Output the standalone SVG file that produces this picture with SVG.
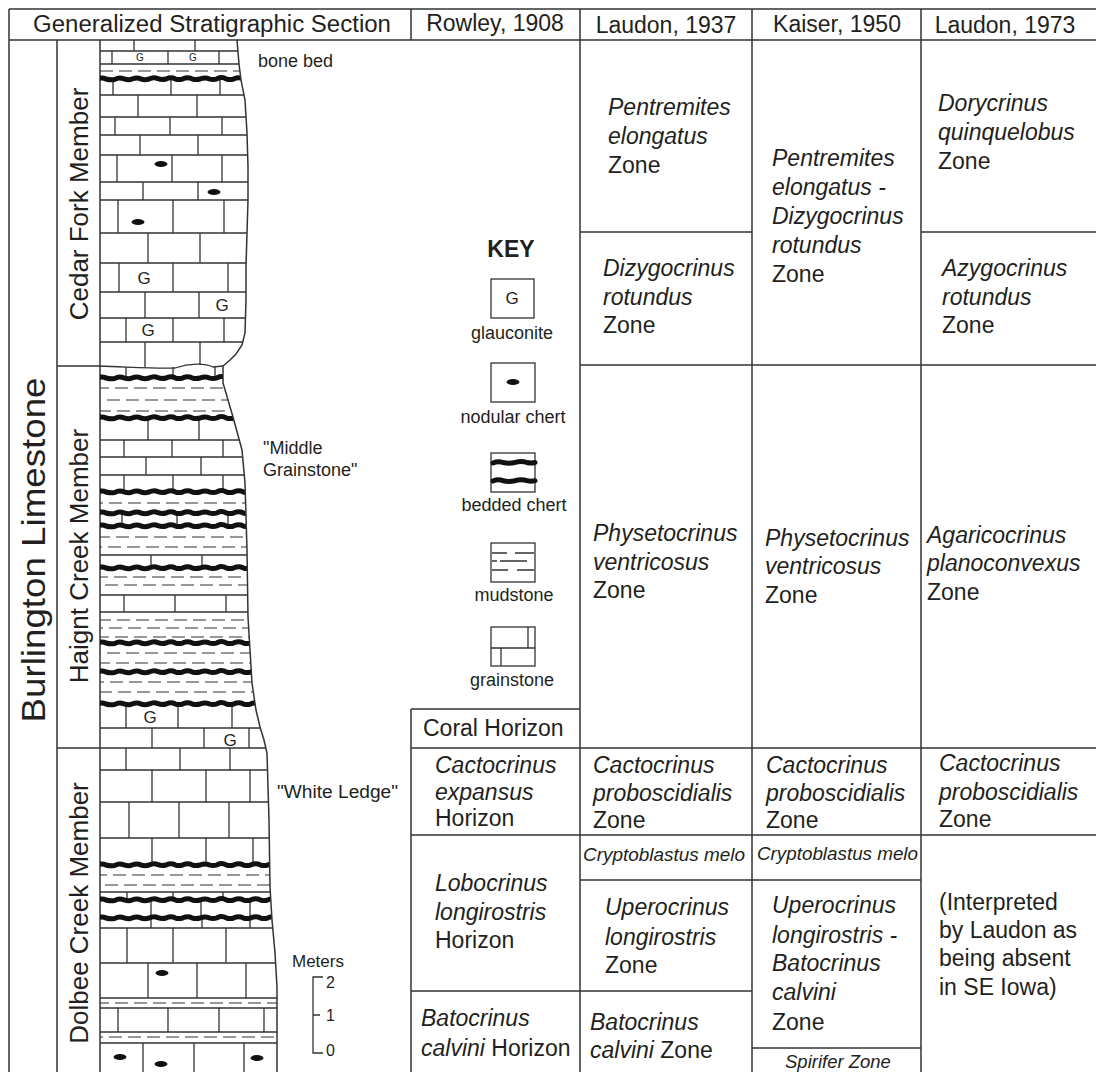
<svg xmlns="http://www.w3.org/2000/svg" width="1096" height="1072" viewBox="0 0 1096 1072">
<style>
.t{font-family:"Liberation Sans",Arial,Helvetica,sans-serif;fill:#231f20}
.h{font-size:23px}
.z{font-size:23px}
.i{font-style:italic}
.s{font-size:18px}
.b{font-weight:bold}
.ln{stroke:#333;stroke-width:1.5;fill:none}
.br{stroke:#333;stroke-width:1.3;fill:none}
.ds{stroke:#333;stroke-width:1.2;fill:none;stroke-dasharray:13 6}
.ch{stroke:#111;stroke-width:5;fill:none;stroke-linecap:round;stroke-linejoin:round}
.nd{fill:#111}
</style>
<defs>
<clipPath id="litho"><path d="M100,40 L237,40 L239,64 L241,80 L245,100 L247,133 L248,167 L248,200 L247,233 L246,267 L246,300 L245,333 L242,345 L236,354 L230,360 L223,366 L223,383 L233,417 L242,450 L245,483 L247,550 L248,617 L252,683 L256,710 L260,727 L264,740 L267,753 L268,787 L269,820 L270,887 L272,920 L275,953 L277,987 L277,1072 L100,1072 Z"/></clipPath>
<path id="chert" d="M98,0 q4,-2.2 8,0 q5,1.4 9,0.3 q4,-2.4 9,-0.5 q5,1.6 8,0.2 q5,-2 9,0 q4,1.3 8,0 q5,-2.4 9,-0.3 q4,1.5 8,0.3 q5,-2.2 9,-0.2 q4,1.4 8,0 q5,-2.3 9,0 q4,1.5 8,0.2 q5,-2 9,-0.2 q4,1.3 8,0 q5,-2.4 9,0 q4,1.5 8,0 q5,-2.2 9,0 q4,1.4 8,0 q5,-2.2 9,0 q4,1.4 8,0 q5,-2 9,0 q4,1.4 8,0"/>
</defs>
<rect width="1096" height="1072" fill="#fff"/>

<g id="connectors">
<path class="ln" d="M9,9 H1096 M9,9 V1072 M9,40 H1096 M411,9 V40 M580,9 V1072 M752,9 V1072 M921,9 V1072 M57,40 V1072 M100,40 V1072 M57,366 H100 M57,748 H100 M580,232 H752 M921,232 H1096 M580,365 H1096 M411,709 H580 M411,709 V1072 M411,748 H1096 M411,835 H1096 M580,880 H921 M411,991 H752 M752,1048 H921"/>
</g>

<g id="headers">
<text class="t h" x="212" y="32" text-anchor="middle" textLength="358" lengthAdjust="spacingAndGlyphs">Generalized Stratigraphic Section</text>
<text class="t h" x="495" y="31" text-anchor="middle">Rowley, 1908</text>
<text class="t h" x="666" y="33" text-anchor="middle">Laudon, 1937</text>
<text class="t h" x="837" y="32" text-anchor="middle">Kaiser, 1950</text>
<text class="t h" x="1005" y="33" text-anchor="middle">Laudon, 1973</text>
</g>

<g id="formation">
<text class="t" font-size="33" transform="translate(45,550) rotate(-90)" text-anchor="middle" textLength="345" lengthAdjust="spacingAndGlyphs">Burlington Limestone</text>
</g>
<g id="member-cedar-fork">
<text class="t" font-size="26" transform="translate(88,204) rotate(-90)" text-anchor="middle">Cedar Fork Member</text>
</g>
<g id="member-haignt-creek">
<text class="t" font-size="26" transform="translate(88,556) rotate(-90)" text-anchor="middle">Haignt Creek Member</text>
</g>
<g id="member-dolbee-creek">
<text class="t" font-size="26" transform="translate(88,913) rotate(-90)" text-anchor="middle">Dolbee Creek Member</text>
</g>

<g id="lithology">
<g clip-path="url(#litho)">
<path class="br" d="M100,51 H290 M100,64 H290 M100,95 H290 M100,117 H290 M100,135 H290 M100,155 H290 M100,182 H290 M100,200 H290 M100,233 H290 M100,263 H290 M100,292 H290 M100,318 H290 M100,342 H290 M100,440 H290 M100,457 H290 M100,475 H290 M100,555 H290 M100,595 H290 M100,612 H290 M100,728 H290 M100,748 H290 M100,770 H290 M100,802 H290 M100,838 H290 M100,892 H290 M100,928 H290 M100,963 H290 M100,998 H290 M100,1008 H290 M100,1032 H290 M100,1043 H290"/>
<path class="br" d="M134,40 V51 M195,40 V51 M112,51 V64 M168,51 V64 M219,51 V64 M113,79 V95 M171,79 V95 M220,79 V95 M138,95 V117 M197,95 V117 M115,117 V135 M170,117 V135 M222,117 V135 M140,135 V155 M198,135 V155 M117,155 V182 M172,155 V182 M222,155 V182 M143,182 V200 M198,182 V200 M118,200 V233 M173,200 V233 M224,200 V233 M148,233 V263 M200,233 V263 M119,263 V292 M173,263 V292 M228,263 V292 M145,292 V318 M199,292 V318 M126,318 V342 M173,318 V342 M224,318 V342 M145,342 V367 M200,342 V365 M126,367 V378 M173,367 V378 M215,366 V378 M148,418 V440 M199,418 V440 M124,440 V457 M172,440 V457 M223,440 V457 M146,457 V475 M201,457 V475 M124,475 V492 M173,475 V492 M223,475 V492 M122,513 V526 M177,513 V526 M228,513 V526 M151,555 V568 M202,555 V568 M124,595 V612 M175,595 V612 M226,595 V612 M126,704 V728 M178,704 V728 M232,704 V728 M152,728 V748 M204,728 V748 M249,728 V748 M126,748 V770 M180,748 V770 M230,748 V770 M152,770 V802 M206,770 V802 M250,770 V802 M129,802 V838 M179,802 V838 M229,802 V838 M152,838 V865 M206,838 V865 M253,838 V865 M127,892 V900 M173,892 V900 M223,892 V900 M151,900 V918 M201,900 V918 M250,900 V918 M151,918 V928 M202,918 V928 M250,918 V928 M127,928 V963 M173,928 V963 M226,928 V963 M148,963 V998 M197,963 V998 M246,963 V998 M118,1008 V1032 M168,1008 V1032 M219,1008 V1032 M264,1008 V1032 M143,1043 V1072 M194,1043 V1072 M244,1043 V1072"/>
<path class="ds" d="M100,71 H290"/>
<path class="ds" stroke-dashoffset="4" d="M100,388 H290"/>
<path class="ds" stroke-dashoffset="12" d="M100,400 H290"/>
<path class="ds" stroke-dashoffset="2" d="M100,411 H290"/>
<path class="ds" stroke-dashoffset="10" d="M100,503 H290"/>
<path class="ds" stroke-dashoffset="3" d="M100,537 H290"/>
<path class="ds" stroke-dashoffset="11" d="M100,547 H290"/>
<path class="ds" stroke-dashoffset="5" d="M100,577 H290"/>
<path class="ds" stroke-dashoffset="14" d="M100,585 H290"/>
<path class="ds" stroke-dashoffset="2" d="M100,620 H290"/>
<path class="ds" stroke-dashoffset="10" d="M100,628 H290"/>
<path class="ds" stroke-dashoffset="4" d="M100,637 H290"/>
<path class="ds" stroke-dashoffset="12" d="M100,653 H290"/>
<path class="ds" stroke-dashoffset="3" d="M100,663 H290"/>
<path class="ds" stroke-dashoffset="9" d="M100,682 H290"/>
<path class="ds" stroke-dashoffset="1" d="M100,692 H290"/>
<path class="ds" stroke-dashoffset="6" d="M100,875 H290"/>
<path class="ds" stroke-dashoffset="14" d="M100,885 H290"/>
<path class="ds" stroke-dashoffset="4" d="M100,1003 H290"/>
<path class="ds" stroke-dashoffset="10" d="M100,1037 H290"/>
<g class="ch">
<use href="#chert" y="79"/>
<use href="#chert" y="378"/>
<use href="#chert" y="418"/>
<use href="#chert" y="492"/>
<use href="#chert" y="513"/>
<use href="#chert" y="526"/>
<use href="#chert" y="568"/>
<use href="#chert" y="643"/>
<use href="#chert" y="672"/>
<use href="#chert" y="704"/>
<use href="#chert" y="865"/>
<use href="#chert" y="900"/>
<use href="#chert" y="918"/>
</g>
</g>
<path class="br" d="M100,366 C130,367 160,369 175,368 C190,363 205,363 213,367 L223,366"/>
<path class="ln" d="M237,40 L239,64 L241,80 L245,100 L247,133 L248,167 L248,200 L247,233 L246,267 L246,300 L245,333 L242,345 L236,354 L230,360 L223,366 L223,383 L233,417 L242,450 L245,483 L247,550 L248,617 L252,683 L256,710 L260,727 L264,740 L267,753 L268,787 L269,820 L270,887 L272,920 L275,953 L277,987 L277,1072"/>
<g class="nd">
<ellipse cx="161" cy="164" rx="6.5" ry="3"/>
<ellipse cx="214" cy="192" rx="6.5" ry="3"/>
<ellipse cx="138" cy="222" rx="6.5" ry="3"/>
<ellipse cx="162" cy="973" rx="6.5" ry="3"/>
<ellipse cx="120" cy="1057" rx="6.5" ry="3"/>
<ellipse cx="161" cy="1064" rx="6.5" ry="3"/>
<ellipse cx="257" cy="1058" rx="6.5" ry="3"/>
</g>
<g class="t" text-anchor="middle">
<text x="140" y="61" font-size="10">G</text>
<text x="193" y="61" font-size="10">G</text>
<text x="144" y="284" font-size="17">G</text>
<text x="222" y="311" font-size="17">G</text>
<text x="148" y="336" font-size="17">G</text>
<text x="150" y="723" font-size="17">G</text>
<text x="230" y="746" font-size="17">G</text>
</g>
</g>

<g id="section-labels">
<text class="t s" x="258" y="67">bone bed</text>
<text class="t s" x="263" y="454">"Middle</text>
<text class="t s" x="263" y="476">Grainstone"</text>
<text class="t s" x="277" y="798" textLength="121" lengthAdjust="spacingAndGlyphs">"White Ledge"</text>
</g>

<g id="scale-bar">
<text class="t" font-size="17" x="292" y="967">Meters</text>
<path class="br" d="M323,977 H313 V1053 H323 M313,1015 H320"/>
<text class="t" font-size="16" x="326" y="988">2</text>
<text class="t" font-size="16" x="326" y="1021">1</text>
<text class="t" font-size="16" x="326" y="1056">0</text>
</g>

<g id="key">
<text class="t b" font-size="23" x="511" y="257" text-anchor="middle">KEY</text>
<rect class="br" x="491" y="279" width="43" height="39"/>
<text class="t" font-size="17" x="512" y="304" text-anchor="middle">G</text>
<text class="t s" x="512" y="339" text-anchor="middle">glauconite</text>
<rect class="br" x="491" y="363" width="44" height="39"/>
<ellipse class="nd" cx="513" cy="382" rx="6.5" ry="3"/>
<text class="t s" x="513" y="423" text-anchor="middle">nodular chert</text>
<rect class="br" x="491" y="453" width="44" height="39"/>
<path class="ch" d="M493,463 q5,-2.2 10,-0.5 q6,1.5 12,0 q6,-2 12,0 q4,1.2 8,0 M493,481 q5,-2.2 10,-0.3 q6,1.5 12,0 q6,-2 12,0 q4,1.2 8,0"/>
<text class="t s" x="514" y="511" text-anchor="middle">bedded chert</text>
<rect class="br" x="491" y="543" width="44" height="39"/>
<path class="br" d="M492,553 H507 M515,553 H534 M492,561 H497 M500,561 H527 M492,570 H508 M517,570 H534"/>
<text class="t s" x="514" y="601" text-anchor="middle">mudstone</text>
<rect class="br" x="491" y="627" width="44" height="39"/>
<path class="br" d="M491,648 H535 M528,627 V648 M501,648 V666"/>
<text class="t s" x="512" y="686" text-anchor="middle">grainstone</text>
</g>

<g id="rowley-1908">
<text class="t z" x="423" y="736">Coral Horizon</text>
<text class="t z" x="435"><tspan class="i" x="435" y="773">Cactocrinus</tspan><tspan class="i" x="435" y="800">expansus</tspan><tspan x="435" y="826">Horizon</tspan></text>
<text class="t z" x="435"><tspan class="i" x="435" y="891">Lobocrinus</tspan><tspan class="i" x="435" y="920">longirostris</tspan><tspan x="435" y="948">Horizon</tspan></text>
<text class="t z" x="421"><tspan class="i" x="421" y="1026">Batocrinus</tspan><tspan class="i" x="421" y="1056">calvini</tspan><tspan> Horizon</tspan></text>
</g>

<g id="laudon-1937">
<text class="t z"><tspan class="i" x="608" y="115">Pentremites</tspan><tspan class="i" x="608" y="144">elongatus</tspan><tspan x="608" y="173">Zone</tspan></text>
<text class="t z"><tspan class="i" x="603" y="276">Dizygocrinus</tspan><tspan class="i" x="603" y="305">rotundus</tspan><tspan x="603" y="333">Zone</tspan></text>
<text class="t z"><tspan class="i" x="593" y="541">Physetocrinus</tspan><tspan class="i" x="593" y="570">ventricosus</tspan><tspan x="593" y="598">Zone</tspan></text>
<text class="t z"><tspan class="i" x="593" y="773">Cactocrinus</tspan><tspan class="i" x="593" y="801">proboscidialis</tspan><tspan x="593" y="828">Zone</tspan></text>
<text class="t i" font-size="18.5" x="583" y="861" textLength="162" lengthAdjust="spacingAndGlyphs">Cryptoblastus melo</text>
<text class="t z"><tspan class="i" x="605" y="915">Uperocrinus</tspan><tspan class="i" x="605" y="945">longirostris</tspan><tspan x="605" y="973">Zone</tspan></text>
<text class="t z"><tspan class="i" x="590" y="1030">Batocrinus</tspan><tspan class="i" x="590" y="1058">calvini</tspan><tspan> Zone</tspan></text>
</g>

<g id="kaiser-1950">
<text class="t z"><tspan class="i" x="772" y="166">Pentremites</tspan><tspan class="i" x="772" y="195">elongatus -</tspan><tspan class="i" x="772" y="224">Dizygocrinus</tspan><tspan class="i" x="772" y="253">rotundus</tspan><tspan x="772" y="282">Zone</tspan></text>
<text class="t z"><tspan class="i" x="765" y="546">Physetocrinus</tspan><tspan class="i" x="765" y="574">ventricosus</tspan><tspan x="765" y="603">Zone</tspan></text>
<text class="t z"><tspan class="i" x="766" y="773">Cactocrinus</tspan><tspan class="i" x="766" y="801">proboscidialis</tspan><tspan x="766" y="828">Zone</tspan></text>
<text class="t i" font-size="18.5" x="757" y="860" textLength="161" lengthAdjust="spacingAndGlyphs">Cryptoblastus melo</text>
<text class="t z"><tspan class="i" x="772" y="913">Uperocrinus</tspan><tspan class="i" x="772" y="943">longirostris -</tspan><tspan class="i" x="772" y="971">Batocrinus</tspan><tspan class="i" x="772" y="1000">calvini</tspan><tspan x="772" y="1030">Zone</tspan></text>
<text class="t i" font-size="18.5" x="785" y="1068">Spirifer Zone</text>
</g>

<g id="laudon-1973">
<text class="t z"><tspan class="i" x="938" y="111">Dorycrinus</tspan><tspan class="i" x="938" y="140">quinquelobus</tspan><tspan x="938" y="169">Zone</tspan></text>
<text class="t z"><tspan class="i" x="942" y="276">Azygocrinus</tspan><tspan class="i" x="942" y="305">rotundus</tspan><tspan x="942" y="333">Zone</tspan></text>
<text class="t z"><tspan class="i" x="927" y="543">Agaricocrinus</tspan><tspan class="i" x="927" y="571">planoconvexus</tspan><tspan x="927" y="600">Zone</tspan></text>
<text class="t z"><tspan class="i" x="939" y="771">Cactocrinus</tspan><tspan class="i" x="939" y="800">proboscidialis</tspan><tspan x="939" y="827">Zone</tspan></text>
<text class="t z"><tspan x="939" y="910">(Interpreted</tspan><tspan x="939" y="938">by Laudon as</tspan><tspan x="939" y="966">being absent</tspan><tspan x="939" y="995">in SE Iowa)</tspan></text>
</g>
</svg>
